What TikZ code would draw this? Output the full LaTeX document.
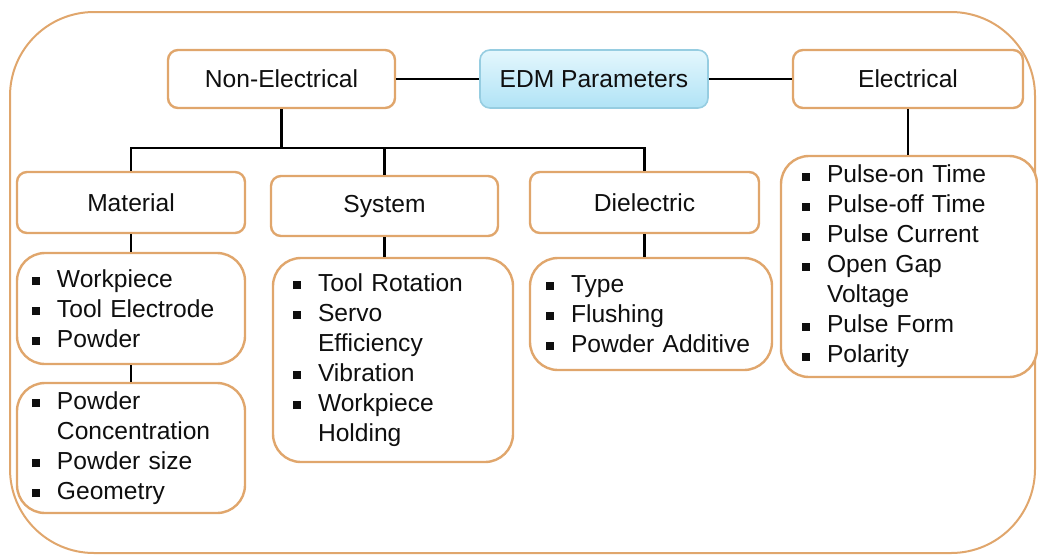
\documentclass[tikz,border=0pt]{standalone}
\usepackage{fontspec}
\setmainfont{Liberation Sans}
\definecolor{boxorange}{RGB}{224,166,108}
\definecolor{edmtop}{RGB}{228,247,253}
\definecolor{edmbottom}{RGB}{176,227,246}
\definecolor{edmline}{RGB}{150,205,225}
\definecolor{txt}{RGB}{15,15,15}
\newcommand{\sqb}{\makebox[12.5pt][l]{\rule[1.1pt]{4pt}{4pt}}}
\newcommand{\cnt}{\hspace*{12.5pt}}
\begin{document}
\begin{tikzpicture}[x=0.5pt, y=-0.5pt,
            every node/.style = {text=txt, font=\fontsize{12.3}{15}\selectfont},
            headbox/.style = {draw=boxorange, line width=1.2pt, rounded corners=5pt,
                fill=white, minimum height=29pt, inner sep=0pt},
            listbox/.style = {draw=boxorange, line width=1.2pt, rounded corners=14pt,
                fill=white, align=left, inner ysep=0pt},
            link/.style = {draw=black, line width=1.1pt}]
            \useasboundingbox (0,0) rectangle (1038,558);
            % outer frame
            \draw[boxorange, line width=1pt, rounded corners=42pt] (10,12) rectangle (1035,553);
            % top row
            \node[headbox, minimum width=113.5pt] (nonel) at (281.5,79) {Non-Electrical};
            \node[headbox, minimum width=114pt, draw=edmline, line width=0.8pt,
                top color=edmtop, bottom color=edmbottom] (edm) at (594,79) {EDM Parameters};
            \node[headbox, minimum width=115pt] (elec) at (908,79) {Electrical};
            % second row
            \node[headbox, minimum width=114pt, minimum height=30.5pt] (material) at (131,202.5) {Material};
            \node[headbox, minimum width=113.5pt, minimum height=30pt] (system) at (384.5,206) {System};
            \node[headbox, minimum width=114.5pt, minimum height=30.5pt] (dielec) at (644.5,202.5) {Dielectric};
            % lists
            \node[listbox, inner xsep=7.5pt, text width=99pt, minimum height=55.5pt] (matlist) at (131,308.5)
                {\sqb Workpiece\\ \sqb Tool Electrode\\ \sqb Powder};
            \node[listbox, inner xsep=7.5pt, text width=99pt, minimum height=65pt] (powlist) at (131,448)
                {\sqb Powder\\ \cnt Concentration\\ \sqb Powder size\\ \sqb Geometry};
            \node[listbox, inner xsep=10pt, text width=100pt, minimum height=102pt] (syslist) at (393,360)
                {\sqb Tool Rotation\\ \sqb Servo\\ \cnt Efficiency\\ \sqb Vibration\\ \sqb Workpiece\\ \cnt Holding};
            \node[listbox, inner xsep=8pt, text width=105pt, minimum height=56pt] (dielist) at (651,314)
                {\sqb Type\\ \sqb Flushing\\ \sqb Powder Additive};
            \node[listbox, inner xsep=10.5pt, text width=107pt, minimum height=110.5pt] (eleclist) at (909,266.5)
                {\sqb Pulse-on Time\\ \sqb Pulse-off Time\\ \sqb Pulse Current\\ \sqb Open Gap\\ \cnt Voltage\\ \sqb Pulse Form\\ \sqb Polarity};
            % connectors
            \coordinate (split) at (281.5,148);
            \draw[link] (nonel) -- (edm);
            \draw[link] (edm) -- (elec);
            \draw[link] (nonel) -- (split);
            \draw[link] (material.north) |- (split) -| (dielec.north);
            \draw[link] (system.north) -- (system.north |- split);
            \draw[link] (material) -- (matlist);
            \draw[link] (matlist) -- (powlist);
            \draw[link] (system.south) -- (system.south |- syslist.north);
            \draw[link] (dielec.south) -- (dielec.south |- dielist.north);
            \draw[link] (elec.south) -- (elec.south |- eleclist.north);
        \end{tikzpicture}
\end{document}
